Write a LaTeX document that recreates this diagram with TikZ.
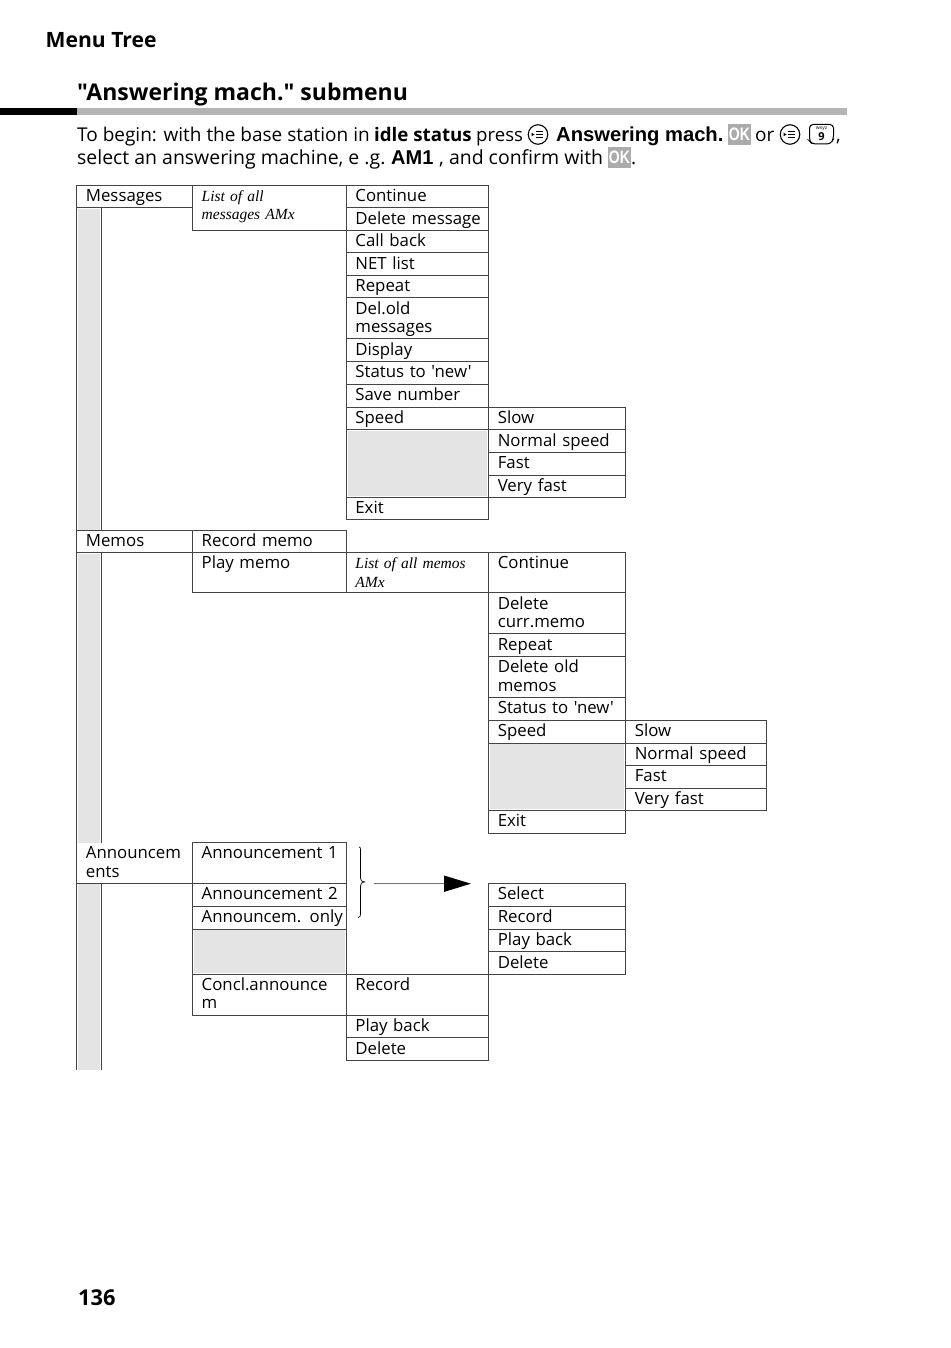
\documentclass[tikz,border=0pt]{standalone}
\usepackage{fontspec}
\usepackage{graphicx}
\setmainfont{Open Sans}[Ligatures=TeXOff]
\newfontfamily\boldsans{Liberation Sans}[BoldFont={* Bold}]
\newfontfamily\ital{Liberation Serif}[ItalicFont={* Italic}]
\usetikzlibrary{arrows.meta,calc}
\definecolor{cellgray}{HTML}{E4E4E4}
\definecolor{rulegray}{HTML}{B4B4B4}
\definecolor{okgray}{HTML}{ABABAB}
\definecolor{linegray}{HTML}{444444}
\tikzset{
  x=1pt,y=-1pt,
  cellbox/.style={draw=linegray,line width=0.9pt,inner sep=0pt,outer sep=0pt,anchor=north west},
  celltext/.style={anchor=north west,inner sep=0pt,align=left,font=\fontsize{16.8}{18.2}\selectfont},
  celltextit/.style={anchor=north west,inner sep=0pt,align=left,font=\ital\itshape\fontsize{15.5}{18.4}\selectfont},
  bodytext/.style={anchor=base west,inner sep=0pt,font=\fontsize{19}{23}\selectfont},
  bodywide/.style={anchor=base west,inner sep=0pt,font=\fontsize{19.45}{23}\selectfont},
  bodybold/.style={anchor=base west,inner sep=0pt,font=\boldsans\bfseries\fontsize{20}{23}\selectfont},
  keyicon/.style={draw=black,line width=1.1pt,circle,minimum size=19.5pt,inner sep=0pt},
  okbox/.style={fill=okgray,text=white,inner sep=0pt,minimum width=23pt,minimum height=21pt,font=\boldsans\bfseries\fontsize{18}{20}\selectfont},
}
% \cell{name}{x1}{y1}{x2}{y2}{text}
\newcommand{\cell}[6]{%
  \pgfmathsetmacro{\cw}{#4-#2}\pgfmathsetmacro{\ch}{#5-#3}%
  \node[cellbox,minimum width=\cw pt,minimum height=\ch pt] (#1) at (#2,#3) {};%
  \node[celltext,text width=\cw pt] (#1t) at ($(#1.north west)+(9,0)$) {\rule{0pt}{16.2pt}#6};}
\newcommand{\cellit}[6]{%
  \pgfmathsetmacro{\cw}{#4-#2}\pgfmathsetmacro{\ch}{#5-#3}%
  \node[cellbox,minimum width=\cw pt,minimum height=\ch pt] (#1) at (#2,#3) {};%
  \node[celltextit,text width=\cw pt] (#1t) at ($(#1.north west)+(9,0)$) {\rule{0pt}{16pt}#6};}
\newcommand{\grayfill}[5]{%
  \pgfmathsetmacro{\cw}{#4-#2}\pgfmathsetmacro{\ch}{#5-#3}%
  \node[cellbox,minimum width=\cw pt,minimum height=\ch pt] (#1) at (#2,#3) {};%
  \fill[cellgray] ($(#1.north west)+(1.4,1.4)$) rectangle ($(#1.south east)+(-1.4,-1.4)$);}
\newcommand{\grayside}[5]{%
  \pgfmathsetmacro{\cw}{#4-#2}\pgfmathsetmacro{\ch}{#5-#3}%
  \node[inner sep=0pt,outer sep=0pt,anchor=north west,minimum width=\cw pt,minimum height=\ch pt] (#1) at (#2,#3) {};%
  \fill[cellgray] ($(#1.north west)+(1.4,1.4)$) rectangle ($(#1.south east)+(-1.4,0)$);%
  \draw[draw=linegray,line width=0.9pt] (#1.north west)--(#1.south west) (#1.north east)--(#1.south east);}
\newcommand{\menukey}[3]{%
  \node[keyicon] (#1) at (#2,#3) {};%
  \fill ($(#1.center)+(-6.5,-1.8)$) -- ++(0,3.6) -- ++(3,-1.8) -- cycle;%
  \draw[line width=1.1pt] ($(#1.center)+(-2.2,-2.6)$)--++(7,0) ($(#1.center)+(-2.2,0)$)--++(7,0) ($(#1.center)+(-2.2,2.6)$)--++(7,0);}
\begin{document}
\begin{tikzpicture}
\useasboundingbox (0,0) rectangle (950,1348);
\node[anchor=base west,inner sep=0pt,font=\bfseries\fontsize{21.1}{24}\selectfont] (chap) at (45.5,47.5) {Menu Tree};
\node[anchor=base west,inner sep=0pt,font=\bfseries\fontsize{23}{28}\selectfont] (title) at (77,100.5) {"Answering mach." submenu};
\fill[black] (0,108.5) rectangle (77,115);
\fill[rulegray] (77,108.5) rectangle (847,115);
% intro line 1
\node[bodytext] (l1a) at (77,141.5) {To begin: with the base station in};
\node[bodytext,font=\bfseries\fontsize{18.7}{23}\selectfont] (l1b) at (374,141.5) {idle status};
\node[bodytext,font=\fontsize{18.6}{23}\selectfont] (l1c) at (476,141.5) {press};
\node[bodybold,font=\boldsans\bfseries\fontsize{20.2}{23}\selectfont] (am) at (556,141.5) {Answering mach.};
\node[okbox] (ok1) at (739.5,134.5) {\scalebox{0.78}[1]{OK}};
\node[bodytext] (or) at (755,141.5) {or};
\node[bodytext] (comma) at (836,141.5) {,};
% intro line 2
\node[bodywide] (l2a) at (77,164.5) {select an answering machine, e .g.};
\node[bodybold] (l2b) at (391,164.5) {AM1};
\node[bodywide] (l2c) at (439,164.5) {, and confirm with};
\node[okbox] (ok2) at (619.5,157.5) {\scalebox{0.78}[1]{OK}};
\node[bodytext] (dot) at (631,164.5) {.};
\menukey{k1}{538}{134.5}
\menukey{k2}{790}{134.5}
\draw[line width=1pt,rounded corners=3.5pt] (809.5,124.5)--(833.5,124.5)--(833.5,139)--(830.5,144)--(812,144)--(809.5,141)--cycle;
\node[inner sep=0pt,font=\fontsize{5}{5}\selectfont] (k9a) at (821.5,129) {wxyz};
\node[inner sep=0pt,font=\bfseries\fontsize{11}{11}\selectfont] (k9b) at (821.5,137) {9};
% gray side columns
\grayside{s1}{76.7}{207.8}{101.6}{530}
\grayside{s2}{76.7}{552.7}{101.6}{842.5}
\grayside{s3}{76.7}{883}{101.6}{1070}
% Messages
\cell{msg}{76.7}{185.3}{192.5}{207.8}{Messages}
\cellit{lst}{192.5}{185.3}{346.2}{230.3}{List of all\\messages AMx}
\cell{c1}{346.2}{185.3}{488.6}{207.8}{Continue}
\cell{c2}{346.2}{207.8}{488.6}{230.3}{Delete message}
\cell{c3}{346.2}{230.3}{488.6}{252.9}{Call back}
\cell{c4}{346.2}{252.9}{488.6}{275.4}{NET list}
\cell{c5}{346.2}{275.4}{488.6}{297.9}{Repeat}
\cell{c6}{346.2}{297.9}{488.6}{338.9}{Del.old\\messages}
\cell{c7}{346.2}{338.9}{488.6}{361.4}{Display}
\cell{c8}{346.2}{361.4}{488.6}{384}{Status to 'new'}
\cell{c9}{346.2}{384}{488.6}{407}{Save number}
\cell{c10}{346.2}{407}{488.6}{429.8}{Speed}
\grayfill{g1}{346.2}{429.8}{488.6}{497.5}
\cell{c11}{346.2}{497.5}{488.6}{519.9}{Exit}
\cell{d1}{488.6}{407}{625.6}{429.8}{Slow}
\cell{d2}{488.6}{429.8}{625.6}{452.5}{Normal speed}
\cell{d3}{488.6}{452.5}{625.6}{475}{Fast}
\cell{d4}{488.6}{475}{625.6}{497.5}{Very fast}
% Memos
\cell{mem}{76.7}{530}{192.5}{552.7}{Memos}
\cell{e1}{192.5}{530}{346.2}{552.5}{Record memo}
\cell{e2}{192.5}{552.5}{346.2}{592.9}{Play memo}
\cellit{e3}{346.2}{552.5}{488.6}{592.9}{List of all memos\\AMx}
\cell{f1}{488.6}{552.5}{625.6}{592.9}{Continue}
\cell{f2}{488.6}{592.9}{625.6}{633.9}{Delete\\curr.memo}
\cell{f3}{488.6}{633.9}{625.6}{656.4}{Repeat}
\cell{f4}{488.6}{656.4}{625.6}{697.2}{Delete old\\memos}
\cell{f5}{488.6}{697.2}{625.6}{720}{Status to 'new'}
\cell{f6}{488.6}{720}{625.6}{743}{Speed}
\grayfill{g2}{488.6}{743}{625.6}{810.3}
\cell{f7}{488.6}{810.3}{625.6}{833}{Exit}
\cell{h1}{625.6}{720}{766.6}{743}{Slow}
\cell{h2}{625.6}{743}{766.6}{765.5}{Normal speed}
\cell{h3}{625.6}{765.5}{766.6}{788}{Fast}
\cell{h4}{625.6}{788}{766.6}{810.3}{Very fast}
% Announcements
\node[inner sep=0pt,outer sep=0pt,anchor=north west,minimum width=115.8pt,minimum height=40.5pt] (ann) at (76.7,842.5) {};
\draw[draw=linegray,line width=0.9pt] (ann.north west)--(ann.south west)--(ann.south east);
\node[celltext,text width=115pt] (annt) at ($(ann.north west)+(9,0)$) {\rule{0pt}{16.2pt}Announcem\\ents};
\cell{a1}{192.5}{842.5}{346.2}{883}{Announcement 1}
\cell{a2}{192.5}{883}{346.2}{906}{Announcement 2}
\cell{a3}{192.5}{906}{346.2}{929}{Announcem. only}
\grayfill{g3}{192.5}{929}{346.2}{974.3}
\cell{a4}{192.5}{974.3}{346.2}{1015}{Concl.announce\\m}
\cell{b1}{346.2}{974.3}{488.6}{1015}{Record}
\cell{b2}{346.2}{1015}{488.6}{1037.7}{Play back}
\cell{b3}{346.2}{1037.7}{488.6}{1060.2}{Delete}
\cell{p1}{488.6}{883}{625.6}{906}{Select}
\cell{p2}{488.6}{906}{625.6}{929}{Record}
\cell{p3}{488.6}{929}{625.6}{951.9}{Play back}
\cell{p4}{488.6}{951.9}{625.6}{974.3}{Delete}
% brace and arrow
\draw[line width=0.7pt,line join=round] (359,846.8) .. controls (360.5,847.5) and (360.5,848) .. (360.5,850) -- (360.5,878) .. controls (360.5,880.5) and (361.5,881.5) .. (365,881.9) .. controls (361.5,882.3) and (360.5,883.5) .. (360.5,886) -- (360.5,914) .. controls (360.5,916) and (360,917) .. (358.3,917.5);
\coordinate (arrS) at (374,883.7);
\coordinate (arrE) at (471,883.7);
\draw[line width=1.5pt,draw=linegray!75,-{Triangle[length=27pt,width=16pt,color=black]}] (arrS)--(arrE);
\node[anchor=base west,inner sep=0pt,font=\bfseries\fontsize{21.8}{24}\selectfont] (pg) at (78,1305) {136};
\end{tikzpicture}
\end{document}
